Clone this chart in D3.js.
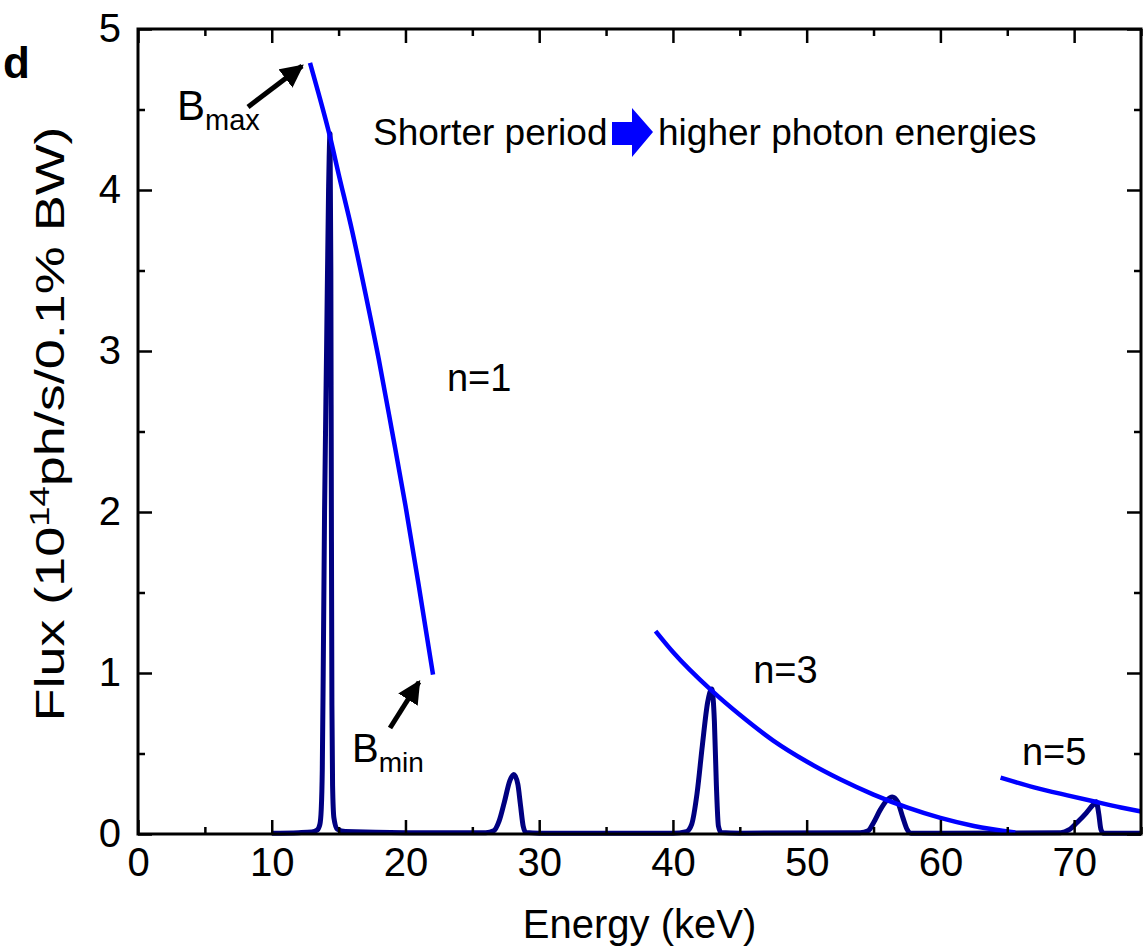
<!DOCTYPE html>
<html>
<head>
<meta charset="utf-8">
<script src="https://cdn.jsdelivr.net/npm/d3@7"></script>
<style>
  body { margin: 0; background: #fff; }
  svg { display: block; font-family: "Liberation Sans", Arial, sans-serif; }
</style>
</head>
<body>
<div id="chart"></div>
<script>
// undulator spectrum (keV, 10^14 ph/s/0.1% BW)
const specE = [10, 12, 13, 13.4, 13.6, 13.7, 13.78, 13.85, 13.95, 14.1, 14.25, 14.36, 14.42, 14.46, 14.5, 14.55, 14.65, 14.9, 15.5,
  20, 26, 26.6, 27.0, 27.4, 27.8, 28.1, 28.4, 28.6, 28.8, 29.0, 30,
  40, 41.0, 41.4, 41.8, 42.2, 42.6, 42.9, 43.1, 43.25, 43.4, 43.6, 45,
  54, 54.6, 55.0, 55.5, 56.0, 56.4, 56.8, 57.2, 57.5, 57.8, 60,
  69, 69.6, 70.2, 70.9, 71.4, 71.65, 71.85, 72.0, 72.2, 75];
const specF = [0.005, 0.008, 0.012, 0.025, 0.06, 0.15, 0.4, 1.0, 2.0, 3.0, 4.0, 4.35, 3.5, 2.0, 0.8, 0.3, 0.1, 0.03, 0.015,
  0.008, 0.008, 0.02, 0.08, 0.2, 0.33, 0.37, 0.31, 0.18, 0.05, 0.01, 0.005,
  0.005, 0.015, 0.06, 0.25, 0.55, 0.82, 0.9, 0.7, 0.3, 0.05, 0.01, 0.005,
  0.008, 0.02, 0.07, 0.15, 0.21, 0.23, 0.2, 0.1, 0.03, 0.005, 0.005,
  0.008, 0.025, 0.07, 0.13, 0.18, 0.2, 0.12, 0.03, 0.005, 0.005];

// tuning curves, Bmax -> Bmin
const n1E = [12.86, 13.5, 14.36, 15, 16, 17, 18, 19, 20, 21, 22.06];
const n1F = [4.79, 4.6, 4.33, 4.1, 3.75, 3.36, 2.95, 2.5, 2.04, 1.54, 0.99];
const n3E = [38.7, 40, 42.9, 45, 47.5, 50, 52.5, 55, 57.5, 60, 62.5, 65.6];
const n3F = [1.26, 1.13, 0.89, 0.74, 0.58, 0.45, 0.34, 0.245, 0.165, 0.1, 0.05, 0.01];
const n5E = [64.5, 67, 69.5, 71.6, 73.5, 75];
const n5F = [0.35, 0.29, 0.24, 0.2, 0.165, 0.14];

const xTicks = [0, 10, 20, 30, 40, 50, 60, 70];
const xMinor = [5, 15, 25, 35, 45, 55, 65, 75];
const yTicks = [0, 1, 2, 3, 4, 5];
const yMinor = [0.5, 1.5, 2.5, 3.5, 4.5];

const width = 1145, height = 946;
const x = d3.scaleLinear().domain([0, 75]).range([138, 1141]);
const y = d3.scaleLinear().domain([0, 5]).range([834, 29]);

const svg = d3.select('#chart').append('svg')
  .attr('width', width)
  .attr('height', height);

const toPts = (es, fs) => es.map((e, i) => [e, fs[i]]);
const line = d3.line()
  .x(d => x(d[0]))
  .y(d => y(d[1]))
  .curve(d3.curveMonotoneX);

// curves
svg.append('path')
  .attr('d', line(toPts(specE, specF)))
  .attr('fill', 'none')
  .attr('stroke', '#000080')
  .attr('stroke-width', 5)
  .attr('stroke-linejoin', 'round');

[[n1E, n1F], [n3E, n3F], [n5E, n5F]].forEach(([es, fs]) => {
  svg.append('path')
    .attr('d', line(toPts(es, fs)))
    .attr('fill', 'none')
    .attr('stroke', '#0000ff')
    .attr('stroke-width', 4.5);
});

// axes, ticks inward on all four sides
function ticks(axis, pos, vals, size, labels) {
  const g = svg.append('g')
    .attr('transform', pos)
    .call(axis.tickValues(vals).tickSize(-size).tickPadding(labels ? labels : 0)
      .tickFormat(labels ? d3.format('d') : ''));
  g.select('.domain').remove();
  g.selectAll('line').attr('stroke', '#000').attr('stroke-width', 2.5);
  g.selectAll('text').attr('font-size', 40).attr('fill', '#000')
    .attr('font-family', '"Liberation Sans", Arial, sans-serif');
  return g;
}
ticks(d3.axisBottom(x), 'translate(0,834)', xTicks, 14, 14);
ticks(d3.axisBottom(x), 'translate(0,834)', xMinor, 7);
ticks(d3.axisTop(x), 'translate(0,29)', xTicks, 14);
ticks(d3.axisTop(x), 'translate(0,29)', xMinor, 7);
ticks(d3.axisLeft(y), 'translate(138,0)', yTicks, 14, 17);
ticks(d3.axisLeft(y), 'translate(138,0)', yMinor, 7);
ticks(d3.axisRight(y), 'translate(1141,0)', yTicks, 14);
ticks(d3.axisRight(y), 'translate(1141,0)', yMinor, 7);

svg.append('rect')
  .attr('x', x(0)).attr('y', y(5))
  .attr('width', x(75) - x(0)).attr('height', y(0) - y(5))
  .attr('fill', 'none').attr('stroke', '#000').attr('stroke-width', 3);

// axis titles
svg.append('text')
  .attr('x', (x(0) + x(75)) / 2).attr('y', 938)
  .attr('text-anchor', 'middle').attr('font-size', 40)
  .text('Energy (keV)');

const yl = svg.append('text')
  .attr('transform', 'translate(64,424) rotate(-90)')
  .attr('text-anchor', 'middle').attr('font-size', 40)
  .attr('textLength', 595).attr('lengthAdjust', 'spacingAndGlyphs');
yl.append('tspan').text('Flux (10');
yl.append('tspan').attr('font-size', 27).attr('dy', -15).text('14');
yl.append('tspan').attr('dy', 15).text('ph/s/0.1% BW)');

svg.append('text')
  .attr('x', 3).attr('y', 78)
  .attr('font-size', 44).attr('font-weight', 'bold')
  .text('d');

// annotations
const labels = [
  ['n=1', 23.1, 391],
  ['n=3', 46.0, 683],
  ['n=5', 66.1, 765]
];
labels.forEach(([t, e, py]) => {
  svg.append('text').attr('x', x(e)).attr('y', py).attr('font-size', 38).text(t);
});

svg.append('text').attr('x', 373).attr('y', 145).attr('font-size', 37).text('Shorter period');
svg.append('text').attr('x', 658).attr('y', 145).attr('font-size', 37).text('higher photon energies');

// fat blue arrow
svg.append('path')
  .attr('d', 'M612,122 L632,122 L632,108 L653,132 L632,157 L632,145 L612,145 Z')
  .attr('fill', '#0000ff');

const bmax = svg.append('text').attr('x', 177).attr('y', 120).attr('font-size', 42);
bmax.append('tspan').text('B');
bmax.append('tspan').attr('font-size', 29).attr('dy', 10).text('max');

const bmin = svg.append('text').attr('x', 352).attr('y', 762).attr('font-size', 40);
bmin.append('tspan').text('B');
bmin.append('tspan').attr('font-size', 28).attr('dy', 10).text('min');

svg.append('defs').append('marker')
  .attr('id', 'head')
  .attr('viewBox', '0 0 10 10')
  .attr('refX', 9).attr('refY', 5)
  .attr('markerWidth', 4.6).attr('markerHeight', 4.6)
  .attr('markerUnits', 'strokeWidth')
  .attr('orient', 'auto')
  .append('path').attr('d', 'M0,0 L10,5 L0,10 Z').attr('fill', '#000');

[[248, 107, 302, 66], [390, 728, 419, 682]].forEach(([x1, y1, x2, y2]) => {
  svg.append('line')
    .attr('x1', x1).attr('y1', y1).attr('x2', x2).attr('y2', y2)
    .attr('stroke', '#000').attr('stroke-width', 5)
    .attr('marker-end', 'url(#head)');
});
</script>
</body>
</html>
